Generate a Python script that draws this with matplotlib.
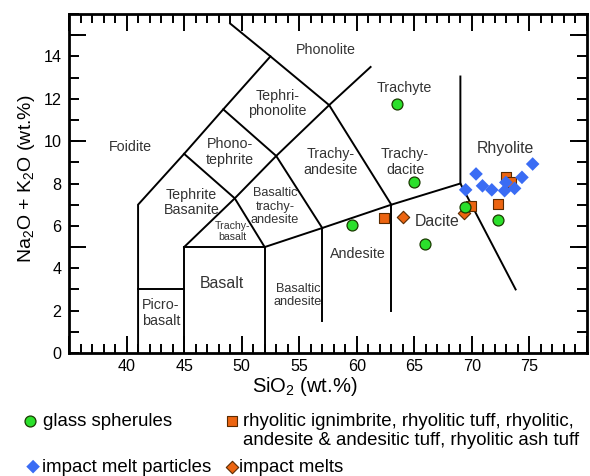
import matplotlib
matplotlib.use('Agg')
import matplotlib.pyplot as plt
from matplotlib.ticker import MultipleLocator, FixedLocator, FuncFormatter

plt.rcParams['font.family'] = ['Liberation Sans', 'DejaVu Sans']
plt.rcParams['mathtext.default'] = 'regular'

# ── TAS field boundaries (SiO2, Na2O+K2O) ─────────────────────────────────────
BOUNDARIES = [
    [(41, 0), (41, 7), (45, 9.4), (48.4, 11.5), (52.5, 14), (49, 15.55)],
    [(41, 3), (45, 3)],
    [(45, 0), (45, 5), (52, 5), (52, 0)],
    [(45, 5), (49.4, 7.3), (53, 9.3), (57.6, 11.7), (61.2, 13.5)],
    [(45, 9.4), (49.4, 7.3), (52, 5)],
    [(48.4, 11.5), (53, 9.3), (57, 5.9)],
    [(52.5, 14), (57.6, 11.7), (63, 7)],
    [(52, 5), (57, 5.9), (63, 7), (69, 8)],
    [(57, 1.5), (57, 5.9)],
    [(63, 2.0), (63, 7)],
    [(69, 13.05), (69, 8), (73.8, 3.0)],
]

# field names: (text, SiO2, alkali, fontsize)
FIELD_LABELS = [
    ('Foidite', 40.3, 9.73, 10.3),
    ('Phonolite', 57.3, 14.3, 10.3),
    ('Tephri-\nphonolite', 53.1, 11.77, 10.3),
    ('Phono-\ntephrite', 49.0, 9.49, 10.3),
    ('Tephrite\nBasanite', 45.65, 7.1, 10.3),
    ('Basaltic\ntrachy-\nandesite', 52.9, 6.9, 9.2),
    ('Trachy-\nbasalt', 49.2, 5.75, 7.6),
    ('Basalt', 48.3, 3.3, 11.4),
    ('Picro-\nbasalt', 43.0, 1.9, 10.3),
    ('Basaltic\nandesite', 54.9, 2.7, 9.2),
    ('Andesite', 60.1, 4.68, 10.3),
    ('Dacite', 67.0, 6.23, 11.4),
    ('Trachy-\nandesite', 57.7, 9.0, 10.3),
    ('Trachy-\ndacite', 64.2, 9.0, 10.3),
    ('Trachyte', 64.1, 12.53, 10.3),
    ('Rhyolite', 72.9, 9.67, 11.4),
]

# ── sample data ──────────────────────────────────────────────────────────────
glass_sio2 = [63.5, 65.0, 59.6, 65.9, 69.4, 72.3]
glass_alk = [11.77, 8.08, 6.03, 5.15, 6.87, 6.29]

tuff_sio2 = [62.4, 69.9, 72.3, 73.0, 73.4]
tuff_alk = [6.39, 6.93, 7.04, 8.29, 8.05]

particle_sio2 = [69.46, 70.36, 70.92, 71.73, 72.84, 72.95, 73.71, 74.35, 75.28]
particle_alk = [7.70, 8.45, 7.89, 7.70, 7.66, 8.05, 7.77, 8.29, 8.92]

melt_sio2 = [64.05, 69.34]
melt_alk = [6.40, 6.63]

GREEN = '#2be02b'
ORANGE = '#ec6410'
BLUE = '#3a6cf4'

fig = plt.figure(figsize=(5.9, 4.76), dpi=100)
ax = fig.add_axes([69/590, 1 - 353/476, 518/590, 339/476])

for seg in BOUNDARIES:
    xs, ys = zip(*seg)
    ax.plot(xs, ys, color='black', lw=1.4, solid_joinstyle='miter', zorder=2)

for txt, x, y, fs in FIELD_LABELS:
    ax.text(x, y, txt, ha='center', va='center', fontsize=fs, color='#333333',
            linespacing=1.15, zorder=2)

sq = ax.scatter(tuff_sio2, tuff_alk, marker='s', s=62, c=ORANGE, edgecolors='#5a2a00',
                linewidths=0.8, zorder=3)
dm = ax.scatter(particle_sio2, particle_alk, marker='D', s=48, c=BLUE, edgecolors='none',
                zorder=4)
md = ax.scatter(melt_sio2, melt_alk, marker='D', s=40, c=ORANGE, edgecolors='#5a2a00',
                linewidths=0.8, zorder=5)
gc = ax.scatter(glass_sio2, glass_alk, marker='o', s=62, c=GREEN, edgecolors='#1a3a00',
                linewidths=0.9, zorder=6)

ax.set_xlim(35, 80)
ax.set_ylim(0, 16)

# x: long ticks every 5, short every 1
ax.xaxis.set_major_locator(FixedLocator([35, 40, 45, 50, 55, 60, 65, 70, 75, 80]))
ax.xaxis.set_major_formatter(FuncFormatter(lambda v, p: '' if v in (35, 80) else f'{v:.0f}'))
ax.xaxis.set_minor_locator(MultipleLocator(1))
# y: short ticks every 1 (labels every 2 up to 14), long ticks at 5, 10, 15
ax.yaxis.set_major_locator(MultipleLocator(1))
ax.yaxis.set_major_formatter(
    FuncFormatter(lambda v, p: f'{v:.0f}' if round(v) % 2 == 0 and v < 15 else ''))
ax.yaxis.set_minor_locator(FixedLocator([5, 10, 15]))
ax.yaxis.remove_overlapping_locs = False

ax.tick_params(axis='both', which='both', direction='in', top=True, right=True,
               width=1.4, labelsize=11.6, colors='black')
ax.tick_params(axis='x', which='major', length=12.5, pad=4)
ax.tick_params(axis='x', which='minor', length=6.5)
ax.tick_params(axis='y', which='major', length=7.5, pad=5.5)
ax.tick_params(axis='y', which='minor', length=12.5)
for sp in ax.spines.values():
    sp.set_linewidth(2.0)

ax.set_xlabel('SiO$_2$ (wt.%)', fontsize=14.5)
ax.xaxis.set_label_coords((305 - 69) / 518, -(387 - 353) / 339)
ax.xaxis.label.set_va('center')
ax.set_ylabel('Na$_2$O + K$_2$O (wt.%)', fontsize=14)
ax.yaxis.set_label_coords(-(69 - 27) / 518, (353 - 179) / 339)
ax.yaxis.label.set_va('center')

# ── legend below the plot ────────────────────────────────────────────────────
leg_kw = dict(frameon=False, loc='center left', borderpad=0, borderaxespad=0,
              handlelength=0.6, fontsize=13.4)
entries = [
    (gc, 'glass spherules', (24.5/590, 1 - 421/476), 0.42),
    (sq, 'rhyolitic ignimbrite, rhyolitic tuff, rhyolitic,', (226/590, 1 - 421/476), 0.31),
    (dm, 'impact melt particles', (27.5/590, 1 - 467/476), 0.17),
    (md, 'impact melts', (226.5/590, 1 - 467/476), 0.05),
]
for h, lab, anchor, pad in entries:
    fig.legend([h], [lab], bbox_to_anchor=anchor, handletextpad=pad, **leg_kw)
fig.text(243/590, 1 - 440.5/476, 'andesite & andesitic tuff, rhyolitic ash tuff',
         fontsize=13.4, ha='left', va='center')

fig.savefig('out.png', dpi=100)
